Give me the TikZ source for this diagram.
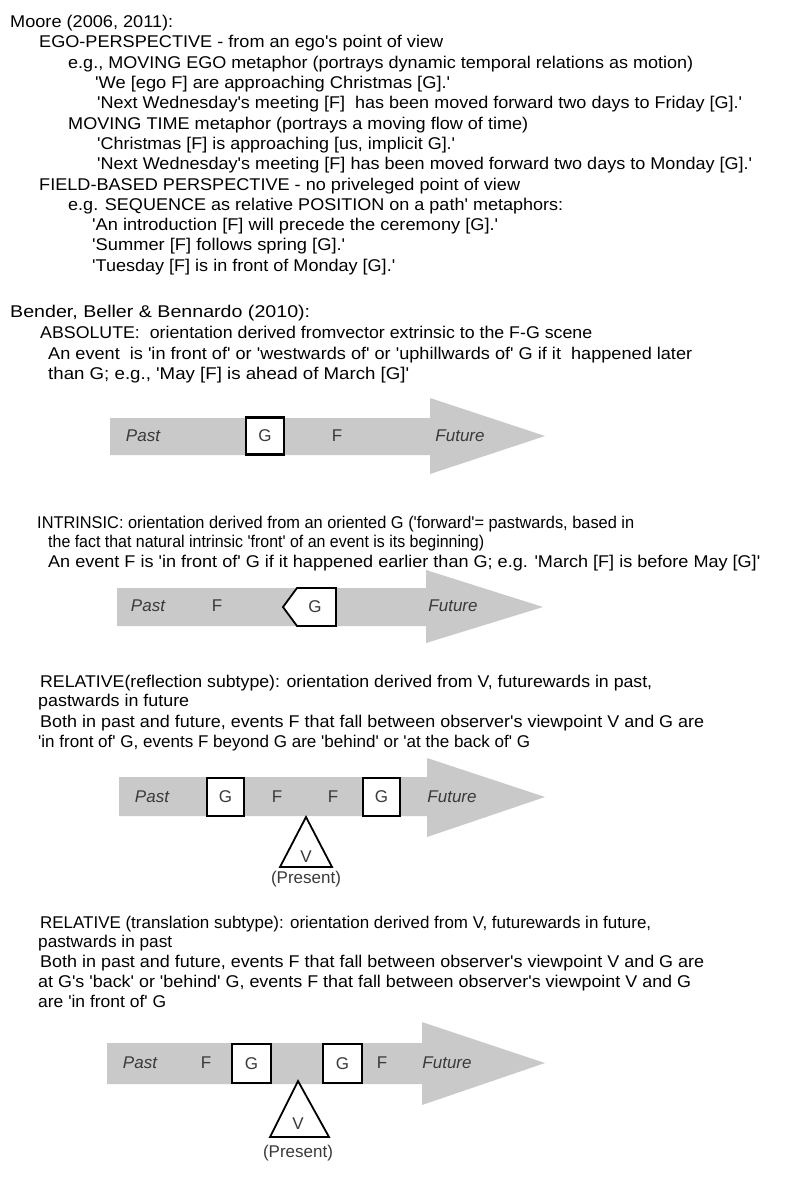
\documentclass[tikz,border=0pt]{standalone}
\usepackage{graphicx}
\usepackage{fontspec}
\newfontfamily\arial{Liberation Sans}
\definecolor{arrowgray}{HTML}{C9C9C9}
\definecolor{labgray}{HTML}{3A3A3A}
\newcommand\fitw[2]{\resizebox{#1pt}{\height}{#2}}
\begin{document}
\begin{tikzpicture}[x=1pt,y=-1pt,
  txt/.style={anchor=base west,inner sep=0pt,font=\arial\fontsize{17}{20}\selectfont,text=black},
  lab/.style={inner sep=0pt,font=\arial\fontsize{17}{20}\selectfont,text=labgray},
  ilab/.style={inner sep=0pt,font=\arial\itshape\fontsize{17}{20}\selectfont,text=labgray},
  gbox/.style={draw=black,line width=2.2pt,fill=white,inner sep=0pt,font=\arial\fontsize{17}{20}\selectfont,text=labgray},
  arr/.style={fill=arrowgray},
  tri/.style={draw=black,line width=1.8pt,fill=white,line join=miter}]
\useasboundingbox (0,0) rectangle (791,1181);
\fill[white] (0,0) rectangle (791,1181);
% ---------- Moore ----------
\node[txt] (t1) at (10,27) {\fitw{163}{Moore (2006, 2011):}};
\node[txt] (t2) at (39,47.5) {\fitw{404}{EGO-PERSPECTIVE - from an ego's point of view}};
\node[txt] (t3) at (68,68) {\fitw{625}{e.g., MOVING EGO metaphor (portrays dynamic temporal relations as motion)}};
\node[txt] (t4) at (95,88) {\fitw{355}{'We [ego F] are approaching Christmas [G].'}};
\node[txt] (t5) at (97,108) {\fitw{645}{'Next Wednesday's meeting [F]\ \ has been moved forward two days to Friday [G].'}};
\node[txt] (t6) at (68,129) {\fitw{460}{MOVING TIME metaphor (portrays a moving flow of time)}};
\node[txt] (t7) at (97,149) {\fitw{358}{'Christmas [F] is approaching [us, implicit G].'}};
\node[txt] (t8) at (97,169) {\fitw{655}{'Next Wednesday's meeting [F] has been moved forward two days to Monday [G].'}};
\node[txt] (t9) at (39,190) {\fitw{481}{FIELD-BASED PERSPECTIVE - no priveleged point of view}};
\node[txt] (t10) at (68,210) {\fitw{495}{e.g. SEQUENCE as relative POSITION on a path' metaphors:}};
\node[txt] (t11) at (92,230) {\fitw{406}{'An introduction [F] will precede the ceremony [G].'}};
\node[txt] (t12) at (92,250.5) {\fitw{253}{'Summer [F] follows spring [G].'}};
\node[txt] (t13) at (92,271) {\fitw{303}{'Tuesday [F] is in front of Monday [G].'}};
% ---------- Bender ----------
\node[txt] (t14) at (10,317) {\fitw{300}{Bender, Beller \& Bennardo (2010):}};
\node[txt] (t15) at (40,338) {\fitw{552}{ABSOLUTE:\ \ orientation derived fromvector extrinsic to the F-G scene}};
\node[txt] (t16) at (48,359) {\fitw{644}{An event\ \ is 'in front of' or 'westwards of' or 'uphillwards of' G if it\ \ happened later}};
\node[txt] (t17) at (48,379) {\fitw{361}{than G; e.g., 'May [F] is ahead of March [G]'}};
% arrow 1
\fill[arr] (110,418) -- (430,418) -- (430,398) -- (545,436) -- (430,474) -- (430,455) -- (110,455) -- cycle;
\node[ilab] (p1) at (143,436) {Past};
\node[gbox,minimum width=38pt,minimum height=37pt] (g1) at (265,436) {G};
\node[lab] (f1) at (337,436) {F};
\node[ilab] (u1) at (460,436) {Future};
% INTRINSIC
\node[txt] (t18) at (37,528) {\fitw{597}{INTRINSIC: orientation derived from an oriented G ('forward'= pastwards, based in}};
\node[txt] (t19) at (48,547) {\fitw{436}{the fact that natural intrinsic 'front' of an event is its beginning)}};
\node[txt] (t20) at (48,567) {\fitw{712}{An event F is 'in front of' G if it happened earlier than G; e.g. 'March [F] is before May [G]'}};
% arrow 2
\fill[arr] (117,588) -- (426,588) -- (426,570) -- (543,607) -- (426,643) -- (426,626) -- (117,626) -- cycle;
\node[ilab] (p2) at (148,606) {Past};
\node[lab] (f2) at (217,606) {F};
\draw[tri] (283,607) -- (297,588) -- (336,588) -- (336,626) -- (297,626) -- cycle;
\node[lab] (g2) at (315,607) {G};
\node[ilab] (u2) at (453,606) {Future};
% RELATIVE reflection
\node[txt] (t21) at (40,687) {\fitw{612}{RELATIVE(reflection subtype): orientation derived from V, futurewards in past,}};
\node[txt] (t22) at (38,706) {\fitw{151}{pastwards in future}};
\node[txt] (t23) at (40,727) {\fitw{664}{Both in past and future, events F that fall between observer's viewpoint V and G are}};
\node[txt] (t24) at (38,747) {\fitw{492}{'in front of' G, events F beyond G are 'behind' or 'at the back of' G}};
% arrow 3
\fill[arr] (119,777) -- (427,777) -- (427,758) -- (545,797) -- (427,837) -- (427,816) -- (119,816) -- cycle;
\node[ilab] (p3) at (152,797) {Past};
\node[gbox,minimum width=37pt,minimum height=38pt] (g3a) at (225.5,797) {G};
\node[lab] (f3a) at (277,797) {F};
\node[lab] (f3b) at (333,797) {F};
\node[gbox,minimum width=37pt,minimum height=38pt] (g3b) at (381.5,797) {G};
\node[ilab] (u3) at (452,797) {Future};
\draw[tri] (306,817) -- (332,867) -- (280,867) -- cycle;
\node[lab] (v3) at (306,857) {V};
\node[lab] (pr3) at (306,879) {(Present)};
% RELATIVE translation
\node[txt] (t25) at (40,928) {\fitw{611}{RELATIVE (translation subtype): orientation derived from V, futurewards in future,}};
\node[txt] (t26) at (38,947) {\fitw{134}{pastwards in past}};
\node[txt] (t27) at (40,967) {\fitw{664}{Both in past and future, events F that fall between observer's viewpoint V and G are}};
\node[txt] (t28) at (38,987) {\fitw{653}{at G's 'back' or 'behind' G, events F that fall between observer's viewpoint V and G}};
\node[txt] (t29) at (38,1007) {\fitw{128}{are 'in front of' G}};
% arrow 4
\fill[arr] (107,1043) -- (422,1043) -- (422,1022) -- (545,1063) -- (422,1105) -- (422,1084) -- (107,1084) -- cycle;
\node[ilab] (p4) at (140,1063) {Past};
\node[lab] (f4a) at (206,1063) {F};
\node[gbox,minimum width=39pt,minimum height=39pt] (g4a) at (251.5,1063.5) {G};
\node[gbox,minimum width=39pt,minimum height=39pt] (g4b) at (342.5,1063.5) {G};
\node[lab] (f4b) at (382,1063) {F};
\node[ilab] (u4) at (447,1063) {Future};
\draw[tri] (298,1081) -- (329,1137) -- (270,1137) -- cycle;
\node[lab] (v4) at (298,1124) {V};
\node[lab] (pr4) at (298,1153) {(Present)};
\end{tikzpicture}
\end{document}
